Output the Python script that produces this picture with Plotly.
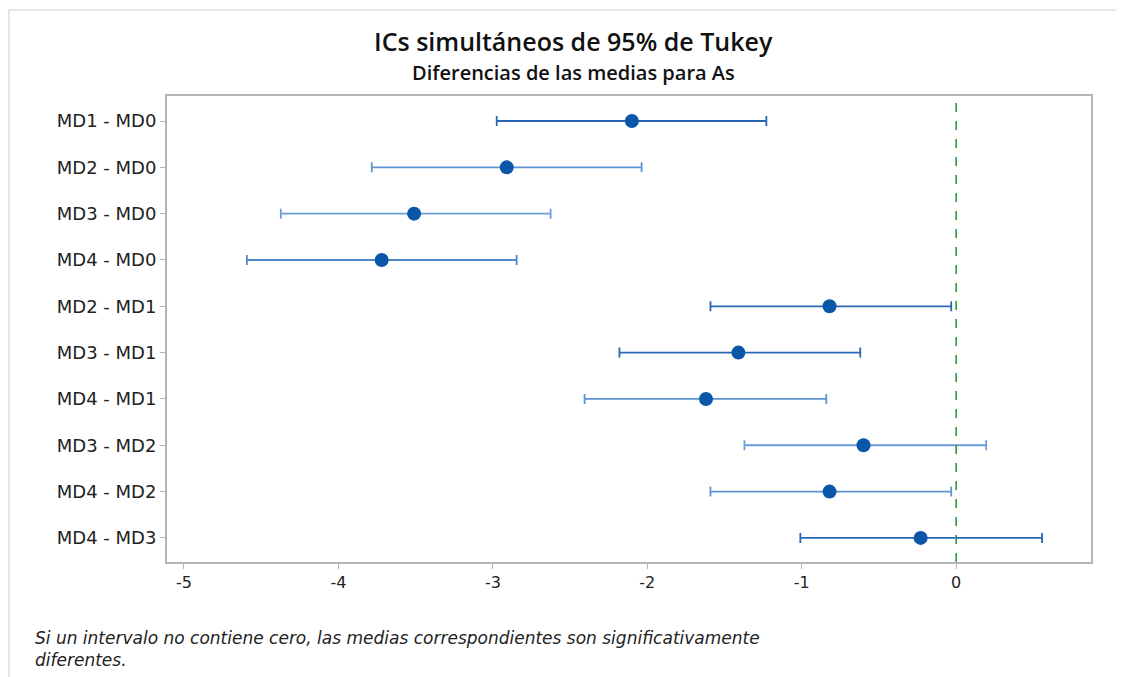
import plotly.graph_objects as go

# --- data ---
pairs = ["MD1 - MD0", "MD2 - MD0", "MD3 - MD0", "MD4 - MD0", "MD2 - MD1",
         "MD3 - MD1", "MD4 - MD1", "MD3 - MD2", "MD4 - MD2", "MD4 - MD3"]
diff = [-2.10, -2.91, -3.51, -3.72, -0.82, -1.41, -1.62, -0.60, -0.82, -0.23]
lower = [-2.975, -3.784, -4.373, -4.593, -1.591, -2.180, -2.406, -1.371, -1.591, -1.009]
upper = [-1.229, -2.037, -2.626, -2.846, -0.032, -0.621, -0.841, 0.194, -0.032, 0.556]
x_ticks = [-5, -4, -3, -2, -1, 0]
x_labels = ["-5", "-4", "-3", "-2", "-1", "0"]

# bar shade per row (the picture shows two tones)
bar_col = ["#2767b4", "#5d93d0", "#6a9fd8", "#4f88c9", "#2767b4",
           "#2767b4", "#5d93d0", "#6a9fd8", "#5d93d0", "#2767b4"]

TFONT = "Open Sans"
FONT = "DejaVu Sans"
# page body has an 8px margin, so the figure starts at (8, 8) in the window
OFF = 8
W, H = 1124 - OFF, 677 - OFF
L, R, T, B = 167 - OFF, 1091 - OFF, 96 - OFF, 562 - OFF
pw, ph = R - L, B - T


def px(x):
    return (x - OFF - L) / pw


def py(y):
    return (B - (y - OFF)) / ph


fig = go.Figure()
for i, name in enumerate(pairs):
    fig.add_trace(go.Scatter(
        x=[diff[i]], y=[i], mode="markers",
        marker=dict(symbol="circle", size=14, color="#0a56a8"),
        error_x=dict(type="data", symmetric=False,
                     array=[upper[i] - diff[i]], arrayminus=[diff[i] - lower[i]],
                     color=bar_col[i], thickness=1.8, width=5),
        showlegend=False, hoverinfo="x+y"))

fig.add_vline(x=0, line=dict(color="#2e9a3e", width=1.6, dash="dash"))

# light frame around the graph window
fig.add_shape(type="line", xref="paper", yref="paper",
              x0=px(9), x1=px(1124), y0=py(10), y1=py(10),
              line=dict(color="#e6e6e6", width=2))
fig.add_shape(type="line", xref="paper", yref="paper",
              x0=px(9), x1=px(9), y0=py(10), y1=py(677),
              line=dict(color="#e6e6e6", width=2))

fig.add_annotation(text="ICs simultáneos de 95% de Tukey", xref="paper", yref="paper",
                   x=px(573), y=py(41), xanchor="center", yanchor="middle", showarrow=False,
                   font=dict(family=TFONT, size=25, color="#111111", weight=600))
fig.add_annotation(text="Diferencias de las medias para As", xref="paper", yref="paper",
                   x=px(573), y=py(72), xanchor="center", yanchor="middle", showarrow=False,
                   font=dict(family=TFONT, size=20, color="#111111", weight=600))
fig.add_annotation(text="<i>Si un intervalo no contiene cero, las medias correspondientes son significativamente<br>diferentes.</i>",
                   xref="paper", yref="paper", x=px(33), y=py(626),
                   xanchor="left", yanchor="top", align="left", showarrow=False,
                   font=dict(family=FONT, size=17, color="#222222"))

axis_style = dict(showline=True, linecolor="#b4b4b4", linewidth=2, mirror=True,
                  showgrid=False, zeroline=False, ticks="outside", ticklen=5,
                  tickcolor="#b4b4b4")

fig.update_layout(
    width=W, height=H,
    margin=dict(l=L, r=W - R, t=T, b=H - B),
    paper_bgcolor="white", plot_bgcolor="white",
    xaxis=dict(range=[-5.11, 0.873], tickvals=x_ticks, ticktext=x_labels,
               tickfont=dict(family=FONT, size=16, color="#222222"), **axis_style),
    yaxis=dict(range=[9.52, -0.54], tickvals=list(range(len(pairs))), ticktext=pairs,
               tickfont=dict(family=FONT, size=18, color="#222222"), **axis_style),
)

fig.write_html("out.html")
